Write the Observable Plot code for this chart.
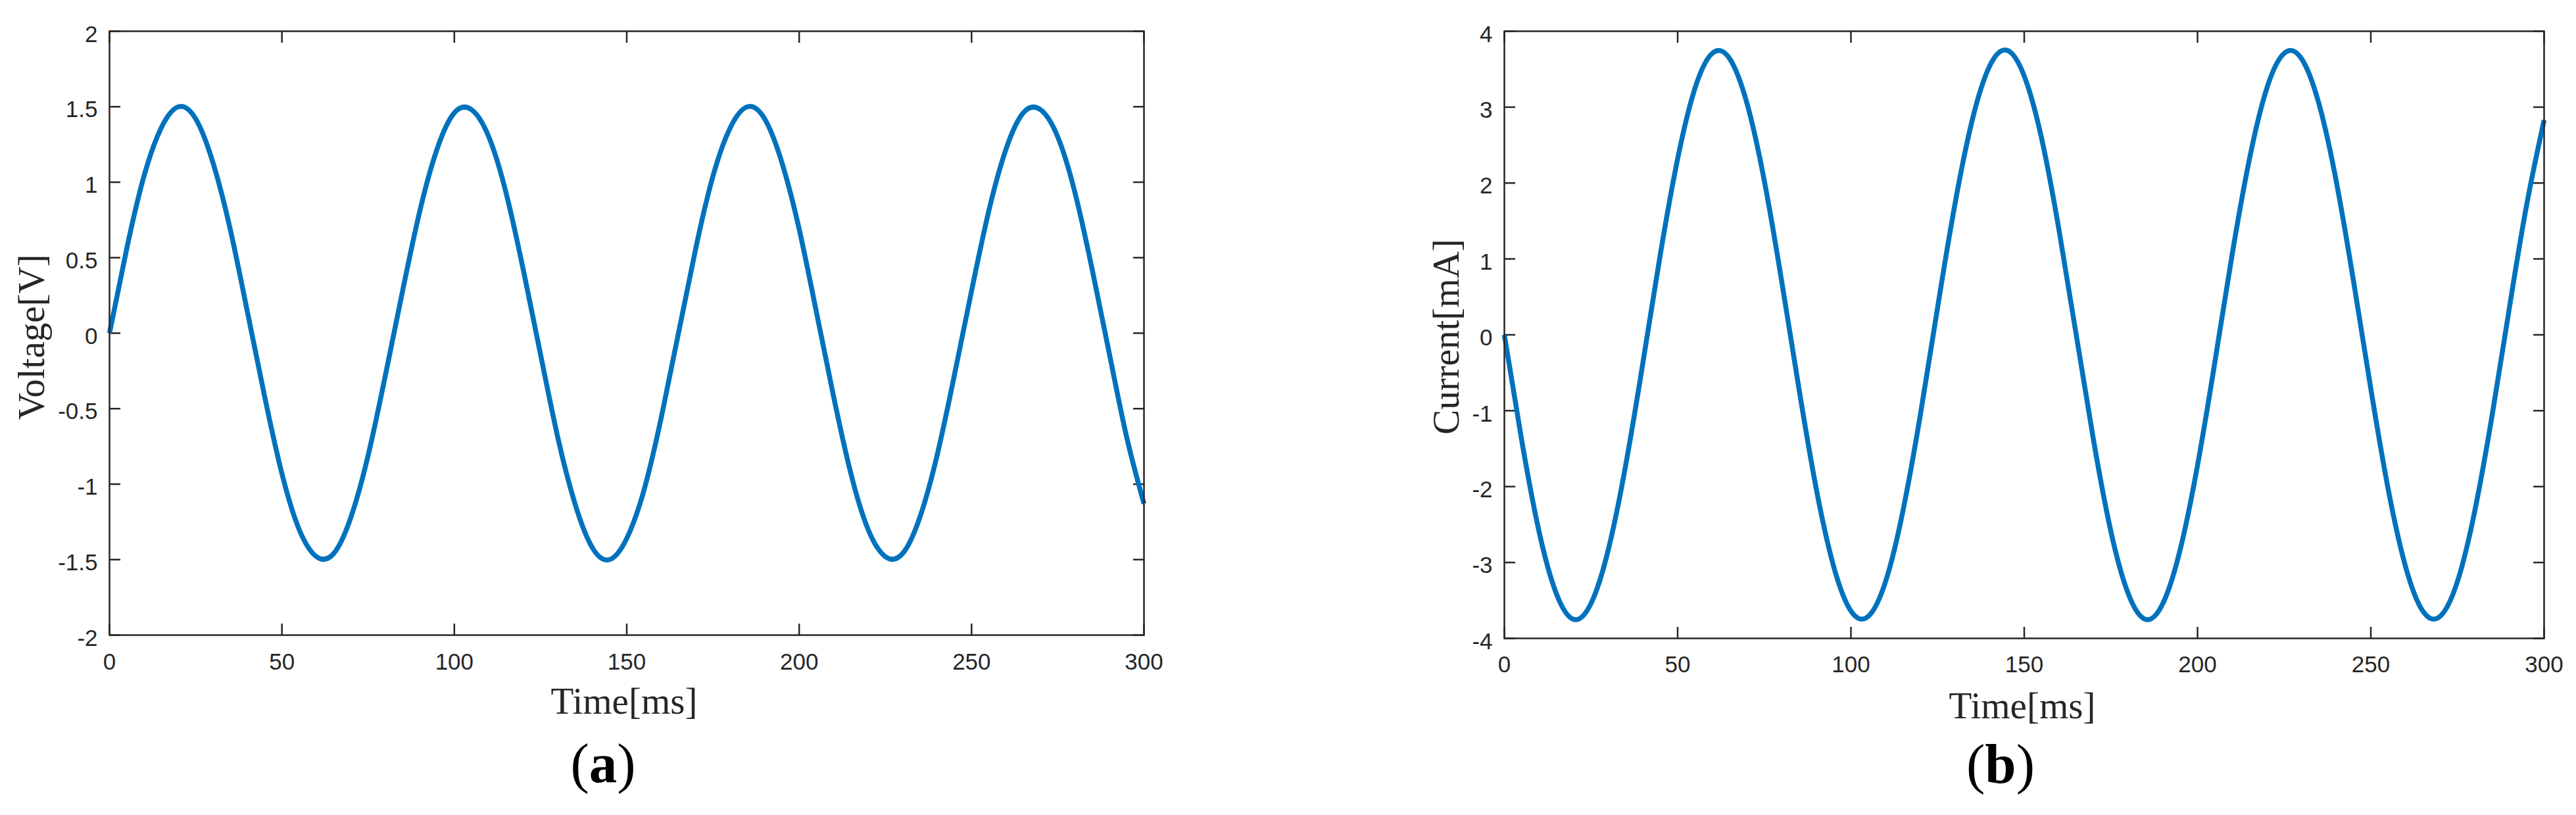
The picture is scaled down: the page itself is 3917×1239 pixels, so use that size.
<!DOCTYPE html>
<html>
<head>
<meta charset="utf-8">
<script src="https://cdn.jsdelivr.net/npm/d3@7"></script>
<script src="https://cdn.jsdelivr.net/npm/@observablehq/plot@0.6"></script>
<style>
  html, body { margin: 0; padding: 0; background: #fff; }
  #wrap { position: relative; width: 3917px; height: 1239px; background: #fff; overflow: hidden; }
  .panel { position: absolute; top: 0; }
  .cap { position: absolute; top: 1118px; width: 400px; text-align: center; white-space: nowrap;
         font-family: "Liberation Serif", "Times New Roman", serif; font-size: 85px; line-height: 85px; color: #000; }
  .cap b { font-weight: bold; }
</style>
</head>
<body>
<div id="wrap"></div>
<script>
// Time samples [ms]
const time = [0,5,10,15,20,25,30,35,40,45,50,55,60,65,70,75,80,85,90,95,100,
  105,110,115,120,125,130,135,140,145,150,155,160,165,170,175,180,185,190,195,200,
  205,210,215,220,225,230,235,240,245,250,255,260,265,270,275,280,285,290,295,300];

// Panel (a): voltage [V]
const voltage = [0,0.56,1.04,1.36,1.50,1.42,1.13,0.69,0.14,-0.42,-0.93,-1.30,-1.48,-1.46,-1.22,-0.81,-0.28,
  0.28,0.81,1.22,1.46,1.48,1.30,0.93,0.42,-0.14,-0.69,-1.13,-1.42,-1.50,-1.36,-1.04,-0.56,
  0,0.56,1.04,1.36,1.50,1.42,1.13,0.69,0.14,-0.42,-0.93,-1.30,-1.48,-1.46,-1.22,-0.81,-0.28,
  0.28,0.81,1.22,1.46,1.48,1.30,0.93,0.42,-0.14,-0.69,-1.13];

// Panel (b): current [mA]
const current = [0,-1.39,-2.59,-3.41,-3.75,-3.54,-2.83,-1.72,-0.36,1.06,2.32,3.25,3.71,3.64,3.05,2.03,0.71,
  -0.71,-2.03,-3.05,-3.64,-3.71,-3.25,-2.32,-1.06,0.36,1.72,2.83,3.54,3.75,3.41,2.59,1.39,
  0,-1.39,-2.59,-3.41,-3.75,-3.54,-2.83,-1.72,-0.36,1.06,2.32,3.25,3.71,3.64,3.05,2.03,0.71,
  -0.71,-2.03,-3.05,-3.64,-3.71,-3.25,-2.32,-1.06,0.36,1.72,2.83];

const xTicks = [0,50,100,150,200,250,300];
const voltageTicks = [-2,-1.5,-1,-0.5,0,0.5,1,1.5,2];
const currentTicks = [-4,-3,-2,-1,0,1,2,3,4];
const xLabel = "Time[ms]";
const voltageLabel = "Voltage[V]";
const currentLabel = "Current[mA]";

const ink = "#262626";
const sans = "'Liberation Sans', Arial, Helvetica, sans-serif";
const serif = "'Liberation Serif', 'Times New Roman', serif";
const fmt = d => String(d);

function panel(o) {
  const data = time.map((t, i) => ({t, v: o.values[i]}));
  const axisStroke = {stroke: ink, strokeWidth: 2.5, fill: "none", label: null};
  return Plot.plot({
    width: o.width, height: 1100,
    marginTop: 47, marginLeft: o.marginLeft, marginRight: o.marginRight, marginBottom: o.marginBottom,
    style: {background: "#fff", color: ink, fontFamily: sans, fontSize: "35px", overflow: "visible"},
    x: {domain: [0, 300], label: null},
    y: {domain: o.yDomain, label: null},
    marks: [
      Plot.axisX(xTicks, {anchor: "bottom", tickSize: 0, tickPadding: o.xPad, tickFormat: fmt,
        fill: ink, fontSize: 35, fontFamily: sans, label: null}),
      Plot.axisX(xTicks, {anchor: "bottom", tickSize: -17, ...axisStroke}),
      Plot.axisX(xTicks, {anchor: "top", tickSize: -17, ...axisStroke}),
      Plot.axisY(o.yTicks, {anchor: "left", tickSize: 0, tickPadding: 18, tickFormat: fmt, dy: 5,
        fill: ink, fontSize: 35, fontFamily: sans, label: null}),
      Plot.axisY(o.yTicks, {anchor: "left", tickSize: -17, ...axisStroke}),
      Plot.axisY(o.yTicks, {anchor: "right", tickSize: -17, ...axisStroke}),
      Plot.line(data, {x: "t", y: "v", stroke: "#0072BD", strokeWidth: 7.5, curve: "natural",
        strokeLinecap: "butt", strokeLinejoin: "round"}),
      Plot.frame({stroke: ink, strokeWidth: 2.5}),
      Plot.text([o.yLabel], {frameAnchor: "left", rotate: -90, dx: o.yLabelDx, dy: o.yLabelDy,
        lineAnchor: "bottom", textAnchor: "middle", fontFamily: serif, fontSize: 57, fill: ink}),
      Plot.text([xLabel], {frameAnchor: "bottom", dx: o.xLabelDx, dy: o.xLabelDy,
        lineAnchor: "bottom", textAnchor: "middle", fontFamily: serif, fontSize: 57, fill: ink})
    ]
  });
}

const wrap = document.getElementById("wrap");

const a = panel({values: voltage, yDomain: [-2, 2], yTicks: voltageTicks, yLabel: voltageLabel,
  width: 1958, marginLeft: 166, marginRight: 219, marginBottom: 135, xPad: 28,
  yLabelDx: -100, yLabelDy: 6, xLabelDx: -4, xLabelDy: 119});
a.classList.add("panel"); a.style.left = "0px";
wrap.appendChild(a);

const b = panel({values: current, yDomain: [-4, 4], yTicks: currentTicks, yLabel: currentLabel,
  width: 1959, marginLeft: 329, marginRight: 49, marginBottom: 130, xPad: 27,
  yLabelDx: -70, yLabelDy: 3, xLabelDx: -3, xLabelDy: 121});
b.classList.add("panel"); b.style.left = "1958px";
wrap.appendChild(b);

const capA = document.createElement("div");
capA.className = "cap"; capA.style.left = (917 - 200) + "px";
capA.innerHTML = "(<b>a</b>)";
wrap.appendChild(capA);

const capB = document.createElement("div");
capB.className = "cap"; capB.style.left = (3042 - 200) + "px"; capB.style.top = "1119px";
capB.innerHTML = "(<b>b</b>)";
wrap.appendChild(capB);
</script>
</body>
</html>
